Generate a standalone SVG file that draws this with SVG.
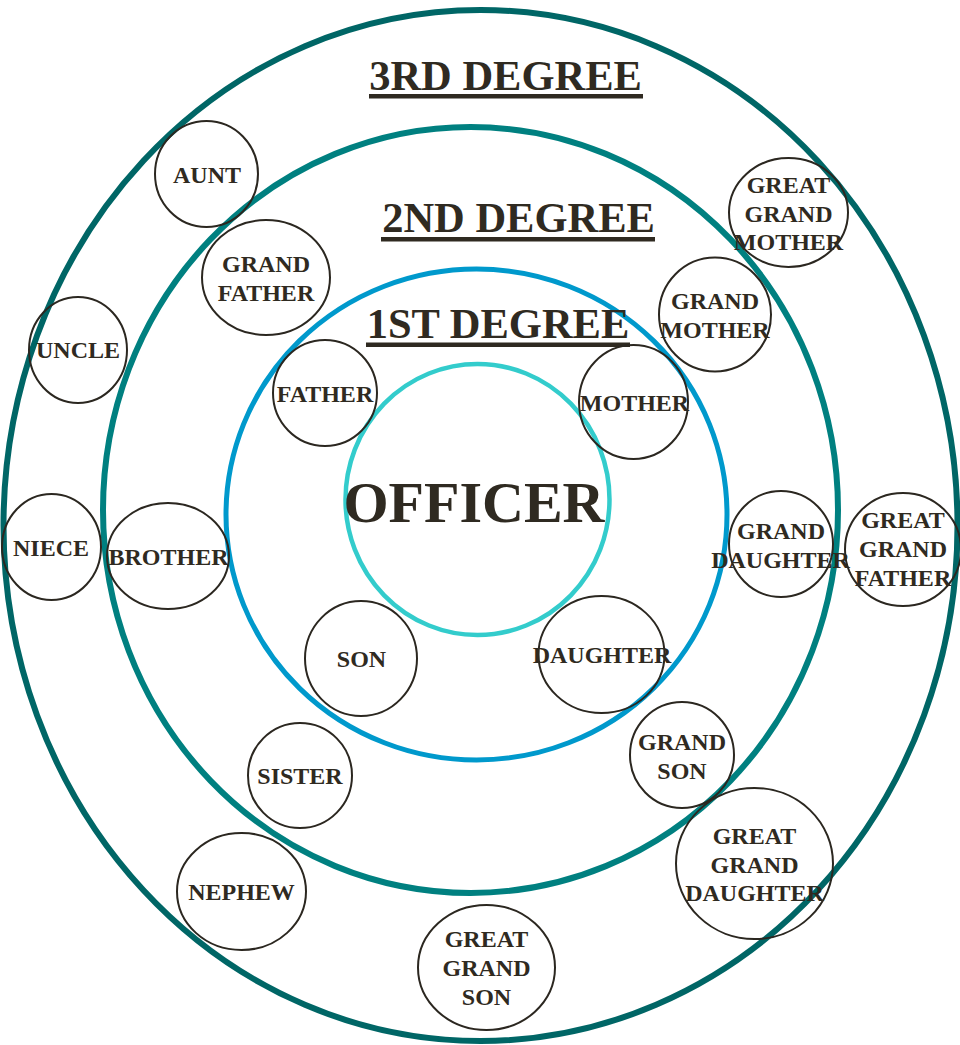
<svg xmlns="http://www.w3.org/2000/svg" width="960" height="1045" viewBox="0 0 960 1045">
<style>
.ring{fill:none}
.r3{stroke:#006666;stroke-width:6}
.r2{stroke:#008080;stroke-width:6}
.r1{stroke:#0099cc;stroke-width:5}
.r0{stroke:#33cccc;stroke-width:4.5}
.node ellipse{fill:none;stroke:#2b2720;stroke-width:2}
text{font-family:"Liberation Serif","Times New Roman",serif;font-weight:bold;fill:#2f2a21;text-anchor:middle}
.lbl{font-size:24px}
.title{font-size:42.5px}
.ul{fill:#2f2a21}
</style>
<rect width="960" height="1045" fill="#ffffff"/>
<g id="rings">
<ellipse id="ring-3rd" class="ring r3" cx="480.5" cy="525.5" rx="477" ry="515.5"/>
<ellipse id="ring-2nd" class="ring r2" cx="470.5" cy="510" rx="367.5" ry="383"/>
<ellipse id="ring-1st" class="ring r1" cx="476.5" cy="514.5" rx="250.5" ry="245.5"/>
<ellipse id="ring-officer" class="ring r0" cx="477.5" cy="499.5" rx="132" ry="135.5"/>
</g>
<g id="titles">
<g id="title-3rd"><text class="title" x="505.5" y="90">3RD DEGREE</text><rect class="ul" x="369" y="94" width="274" height="4.5"/></g>
<g id="title-2nd"><text class="title" x="518.5" y="232">2ND DEGREE</text><rect class="ul" x="381" y="237" width="274" height="4.5"/></g>
<g id="title-1st"><text class="title" x="498" y="338">1ST DEGREE</text><rect class="ul" x="366" y="342.5" width="264" height="4.5"/></g>
</g>
<g id="officer"><text x="474" y="522" style="font-size:58px">OFFICER</text></g>
<g id="aunt" class="node"><ellipse cx="206.5" cy="174" rx="51.5" ry="53"/><text class="lbl" x="207" y="183">AUNT</text></g>
<g id="grandfather" class="node"><ellipse cx="266" cy="277.5" rx="64" ry="57.5"/><text class="lbl" x="266" y="272">GRAND</text><text class="lbl" x="266" y="301">FATHER</text></g>
<g id="uncle" class="node"><ellipse cx="78" cy="350" rx="49" ry="53"/><text class="lbl" x="78" y="358">UNCLE</text></g>
<g id="father" class="node"><ellipse cx="325" cy="393" rx="52" ry="53"/><text class="lbl" x="325" y="402">FATHER</text></g>
<g id="greatgrandmother" class="node"><ellipse cx="788.5" cy="212.5" rx="59.5" ry="54.5"/><text class="lbl" x="788.5" y="193">GREAT</text><text class="lbl" x="788.5" y="222">GRAND</text><text class="lbl" x="788.5" y="250">MOTHER</text></g>
<g id="grandmother" class="node"><ellipse cx="715" cy="314.5" rx="56" ry="57"/><text class="lbl" x="715" y="309">GRAND</text><text class="lbl" x="715" y="338">MOTHER</text></g>
<g id="mother" class="node"><ellipse cx="633.5" cy="402" rx="54.5" ry="57"/><text class="lbl" x="634.5" y="411">MOTHER</text></g>
<g id="niece" class="node"><ellipse cx="51.5" cy="547" rx="49.5" ry="53"/><text class="lbl" x="51" y="556">NIECE</text></g>
<g id="brother" class="node"><ellipse cx="168" cy="556" rx="61" ry="53"/><text class="lbl" x="168.5" y="565">BROTHER</text></g>
<g id="granddaughter" class="node"><ellipse cx="781" cy="544" rx="52" ry="53"/><text class="lbl" x="781" y="539">GRAND</text><text class="lbl" x="780.5" y="568">DAUGHTER</text></g>
<g id="greatgrandfather" class="node"><ellipse cx="903" cy="549.5" rx="58" ry="56.5"/><text class="lbl" x="903" y="528">GREAT</text><text class="lbl" x="903" y="557">GRAND</text><text class="lbl" x="903" y="586">FATHER</text></g>
<g id="son" class="node"><ellipse cx="361" cy="658.5" rx="56" ry="57.5"/><text class="lbl" x="361.5" y="667">SON</text></g>
<g id="daughter" class="node"><ellipse cx="601.5" cy="654.5" rx="63" ry="58.5"/><text class="lbl" x="602" y="663">DAUGHTER</text></g>
<g id="grandson" class="node"><ellipse cx="682" cy="755" rx="52" ry="53"/><text class="lbl" x="682" y="750">GRAND</text><text class="lbl" x="682" y="779">SON</text></g>
<g id="sister" class="node"><ellipse cx="300" cy="775.5" rx="52" ry="52.5"/><text class="lbl" x="300" y="784">SISTER</text></g>
<g id="nephew" class="node"><ellipse cx="241.5" cy="891.5" rx="64.5" ry="58.5"/><text class="lbl" x="241.5" y="900">NEPHEW</text></g>
<g id="greatgranddaughter" class="node"><ellipse cx="754.5" cy="863.5" rx="78.5" ry="75.5"/><text class="lbl" x="754.5" y="844">GREAT</text><text class="lbl" x="754.5" y="873">GRAND</text><text class="lbl" x="754.5" y="901">DAUGHTER</text></g>
<g id="greatgrandson" class="node"><ellipse cx="486.5" cy="967.5" rx="68.5" ry="62.5"/><text class="lbl" x="486.5" y="947">GREAT</text><text class="lbl" x="486.5" y="976">GRAND</text><text class="lbl" x="486.5" y="1005">SON</text></g>
</svg>
